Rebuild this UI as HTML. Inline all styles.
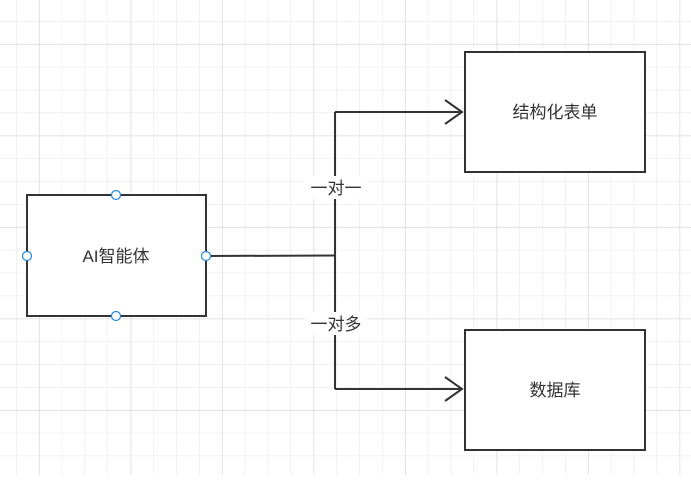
<!DOCTYPE html>
<html><head><meta charset="utf-8"><style>
html,body{margin:0;padding:0;background:#fff;}
body{width:691px;height:475px;overflow:hidden;}
</style></head><body>
<svg width="691" height="475" xmlns="http://www.w3.org/2000/svg" font-family="Liberation Sans, Noto Sans CJK SC, sans-serif">
<defs>
<pattern id="minor" x="16" y="21" width="22.875" height="22.875" patternUnits="userSpaceOnUse">
<path d="M0 0V22.875M0 0H22.875" stroke="#e9e9e9" stroke-width="1.2" fill="none"/>
</pattern>
<pattern id="major" x="39" y="44" width="91.5" height="91.5" patternUnits="userSpaceOnUse">
<path d="M0 0V91.5M0 0H91.5" stroke="#dddddd" stroke-width="1.5" fill="none"/>
</pattern>
</defs>
<rect width="691" height="475" fill="url(#minor)"/>
<rect width="691" height="475" fill="url(#major)"/>
<g stroke="#333" stroke-width="2" fill="none">
<path d="M206 256 L335 255.5"/>
<path d="M335 112 V389"/>
<path d="M335 112 H462"/>
<path d="M335 389 H462"/>
<path d="M445 100 L462 112 L445 124"/>
<path d="M445 377 L462 389 L445 401"/>
</g>
<g stroke="#333" stroke-width="2" fill="#fff">
<rect x="27" y="195" width="179" height="121"/>
<rect x="465" y="52" width="180" height="120"/>
<rect x="465" y="330" width="180" height="120"/>
</g>
<rect x="305" y="176" width="62" height="23" fill="#fff"/>
<rect x="305" y="312" width="62" height="23" fill="#fff"/>
<g font-size="17" fill="#333" text-anchor="middle">
<text x="336" y="194">一对一</text>
<text x="336" y="330">一对多</text>
<text x="116" y="262">AI智能体</text>
<text x="555" y="118">结构化表单</text>
<text x="555" y="396">数据库</text>
</g>
<g fill="#fff" stroke="#1e88e5" stroke-width="1.2">
<circle cx="116" cy="195" r="4.5"/>
<circle cx="116" cy="316" r="4.5"/>
<circle cx="27" cy="256" r="4.5"/>
<circle cx="206" cy="256" r="4.5"/>
</g>
</svg>
</body></html>
